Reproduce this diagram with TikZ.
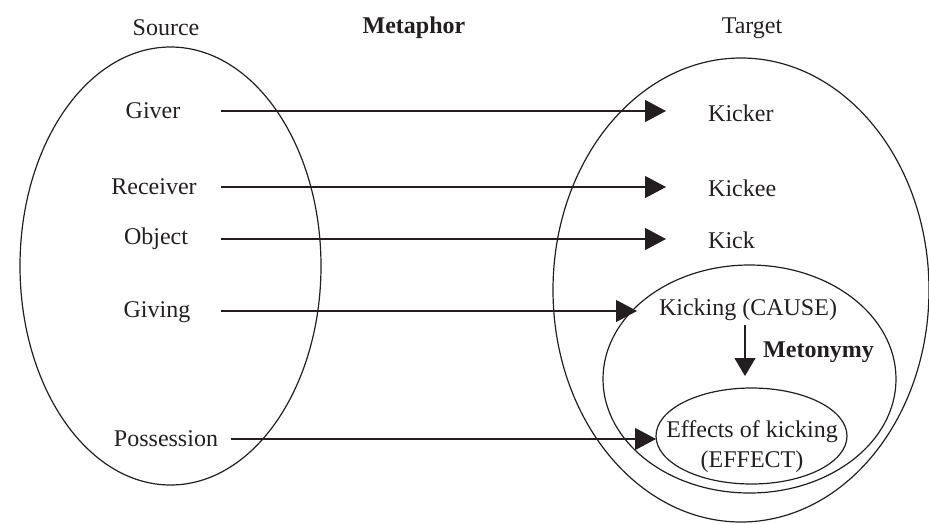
\documentclass[tikz,border=0pt]{standalone}
\usepackage{fontspec}
\setmainfont{Liberation Serif}
\usetikzlibrary{arrows.meta}
\definecolor{ink}{HTML}{231F20}
\begin{document}
\begin{tikzpicture}[x=1pt,y=-1pt,
  lbl/.style={font=\fontsize{24}{28}\selectfont, text=ink, inner sep=0pt},
  ring/.style={draw=ink, line width=1.2pt},
  mapto/.style={draw=ink, line width=1.2pt, -{Triangle[length=21pt,width=22pt]}},
  cause/.style={draw=ink, line width=1.2pt, -{Triangle[length=18pt,width=21pt]}}]
\useasboundingbox (0,0) rectangle (929,523);

% domains
\draw[ring] (170.5,266) ellipse [x radius=150.5, y radius=219];
\draw[ring] (741,290) ellipse [x radius=188, y radius=232];
\draw[ring] (749.5,379) ellipse [x radius=146.5, y radius=114];
\draw[ring] (751.5,436) ellipse [x radius=95.5, y radius=48];

% headings
\node[lbl] (src) at (166,28) {Source};
\node[lbl, font=\fontsize{24}{28}\selectfont\bfseries] (met) at (414,28) {Metaphor};
\node[lbl] (tgt) at (752,28) {Target};

% source roles
\node[lbl] (giver) at (153,111) {Giver};
\node[lbl] (receiver) at (154,187) {Receiver};
\node[lbl] (object) at (156,239) {Object};
\node[lbl] (giving) at (157,312) {Giving};
\node[lbl] (possession) at (166,439) {Possession};

% target roles
\node[lbl, anchor=west] (kicker) at (708,113) {Kicker};
\node[lbl, anchor=west] (kickee) at (708,188) {Kickee};
\node[lbl, anchor=west] (kick) at (708,240) {Kick};
\node[lbl] (kicking) at (748,310) {Kicking (CAUSE)};
\node[lbl, align=center, font=\fontsize{24}{30}\selectfont] (effects) at (752,447) {Effects of kicking\\(EFFECT)};
\node[lbl, anchor=west, font=\fontsize{24}{28}\selectfont\bfseries] (mety) at (763,352) {Metonymy};

% connector ends
\coordinate (s1) at (221,111); \coordinate (e1) at (666,111);
\coordinate (s2) at (221,187); \coordinate (e2) at (666,187);
\coordinate (s3) at (221,239); \coordinate (e3) at (666,239);
\coordinate (s4) at (221,311); \coordinate (e4) at (637,311);
\coordinate (s5) at (231,439); \coordinate (e5) at (656,439);
\coordinate (m1) at (745,325); \coordinate (m2) at (745,376);

% metaphorical mappings
\draw[mapto] (s1) -- (e1);
\draw[mapto] (s2) -- (e2);
\draw[mapto] (s3) -- (e3);
\draw[mapto] (s4) -- (e4);
\draw[mapto] (s5) -- (e5);

% metonymic link
\draw[cause] (m1) -- (m2);
\end{tikzpicture}
\end{document}
